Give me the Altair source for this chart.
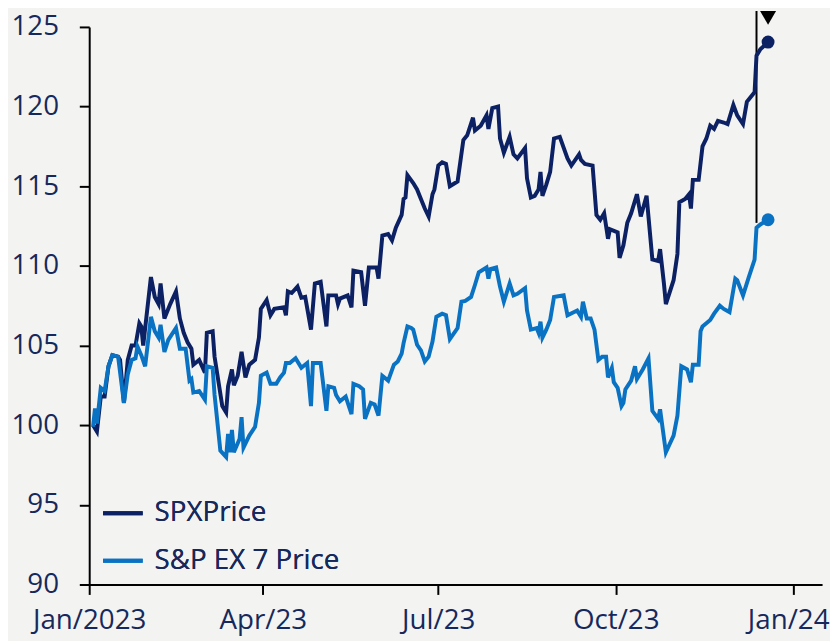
import altair as alt
import pandas as pd

# ---------------- data ----------------
spx_dates = ["01-03","01-05","01-07","01-09","01-11","01-13","01-16","01-17","01-19","01-21",
             "01-23","01-25","01-27","01-28","01-29","02-02","02-04","02-06","02-07","02-09",
             "02-12","02-15","02-17","02-19","02-21","02-23","02-24","02-27","03-02","03-03",
             "03-06","03-07","03-11","03-13","03-14","03-16","03-17","03-19","03-21","03-23",
             "03-25","03-28","03-30","03-31","04-03","04-05","04-07","04-12","04-13","04-14",
             "04-16","04-19","04-21","04-23","04-26","04-28","05-01","05-04","05-05","05-09",
             "05-10","05-11","05-15","05-17","05-18","05-22","05-24","05-26","05-30","05-31",
             "06-02","06-05","06-07","06-09","06-12","06-13","06-14","06-15","06-18","06-20",
             "06-22","06-24","06-26","06-28","06-29","07-01","07-03","07-05","07-07","07-11",
             "07-14","07-16","07-19","07-20","07-23","07-26","07-27","07-29","08-01","08-02",
             "08-04","08-07","08-09","08-11","08-15","08-16","08-18","08-20","08-22","08-23",
             "08-24","08-26","08-28","08-30","09-02","09-06","09-08","09-12","09-13","09-15",
             "09-19","09-21","09-23","09-25","09-27","09-28","10-02","10-03","10-05","10-07",
             "10-09","10-12","10-14","10-17","10-20","10-23","10-24","10-26","10-27","10-31",
             "11-02","11-03","11-06","11-08","11-09","11-10","11-13","11-15","11-17","11-19",
             "11-21","11-23","11-26","11-28","12-01","12-03","12-06","12-08","12-10","12-12",
             "12-13","12-15","12-19"]
spx_vals = [100.0, 99.6, 101.8, 101.8, 103.7, 104.4, 104.3, 104.1, 101.4, 104.1,
            105.0, 105.0, 106.4, 106.2, 105.0, 109.3, 108.05, 107.6, 108.9, 106.7,
            107.6, 108.4, 106.7, 105.8, 105.2, 104.8, 103.8, 104.1, 103.3, 105.8,
            105.9, 104.3, 101.2, 100.8, 102.45, 103.5, 102.5, 103.1, 104.6, 103.0,
            103.8, 104.1, 105.5, 107.3, 107.85, 106.9, 107.3, 107.4, 106.9, 108.4,
            108.3, 108.7, 108.0, 108.05, 106.0, 108.9, 109.0, 106.2, 108.15, 108.15,
            107.6, 107.95, 108.15, 107.4, 109.7, 109.6, 107.5, 109.9, 109.9, 109.2,
            111.9, 112.0, 111.6, 112.4, 113.2, 114.2, 114.3, 115.7, 115.2, 114.8,
            114.2, 113.6, 113.1, 114.5, 114.8, 116.3, 116.5, 116.4, 115.0, 115.3,
            117.9, 118.2, 119.3, 118.5, 118.8, 119.45, 118.6, 119.9, 120.0, 118.0,
            117.1, 118.1, 117.0, 116.75, 117.4, 115.5, 114.3, 114.4, 114.8, 115.9,
            114.4, 115.1, 115.9, 118.0, 118.1, 116.75, 116.3, 117.0, 116.65, 116.4,
            116.3, 113.2, 112.9, 113.3, 111.7, 112.3, 112.1, 110.5, 111.3, 112.7,
            113.3, 114.5, 113.1, 114.4, 110.4, 110.3, 111.05, 108.9, 107.6, 109.1,
            110.75, 114.0, 114.2, 114.5, 113.6, 115.4, 115.4, 117.5, 118.0, 118.8,
            118.6, 119.1, 119.0, 118.9, 120.1, 119.45, 118.9, 120.3, 120.6, 120.9,
            123.2, 123.6, 124.05]

ex7_dates = ["01-03","01-04","01-05","01-07","01-09","01-11","01-13","01-16","01-19","01-21",
             "01-23","01-25","01-26","01-28","01-30","02-02","02-04","02-06","02-07","02-09",
             "02-11","02-15","02-17","02-20","02-22","02-23","02-24","02-27","03-02","03-03",
             "03-06","03-07","03-10","03-13","03-14","03-15","03-16","03-17","03-20","03-21",
             "03-22","03-25","03-28","03-30","03-31","04-03","04-05","04-08","04-10","04-12",
             "04-13","04-15","04-18","04-21","04-24","04-26","04-27","05-01","05-04","05-05",
             "05-08","05-09","05-11","05-14","05-17","05-18","05-21","05-23","05-24","05-27",
             "05-29","05-31","06-02","06-05","06-08","06-10","06-12","06-13","06-15","06-17",
             "06-18","06-20","06-22","06-24","06-26","06-28","06-30","07-03","07-05","07-07",
             "07-11","07-13","07-15","07-18","07-20","07-22","07-26","07-27","07-28","07-31",
             "08-02","08-04","08-07","08-09","08-11","08-15","08-16","08-18","08-21","08-22",
             "08-23","08-24","08-26","08-28","08-30","09-04","09-06","09-11","09-13","09-14",
             "09-16","09-18","09-20","09-22","09-24","09-26","09-27","09-29","09-30","10-02",
             "10-04","10-05","10-06","10-09","10-11","10-12","10-15","10-18","10-20","10-23",
             "10-24","10-27","10-31","11-02","11-04","11-07","11-09","11-10","11-13","11-14",
             "11-15","11-19","11-21","11-24","11-26","11-29","12-02","12-03","12-06","12-09",
             "12-12","12-13","12-15","12-19"]
ex7_vals = [99.9, 101.05, 100.1, 102.35, 102.15, 103.7, 104.4, 104.3, 101.4, 103.2,
            104.1, 104.2, 104.95, 104.4, 103.7, 106.8, 105.9, 105.5, 106.3, 104.6,
            105.35, 106.1, 104.8, 104.8, 102.8, 102.9, 102.05, 102.15, 101.6, 103.7,
            103.6, 101.9, 98.4, 98.0, 99.45, 98.3, 99.7, 98.3, 99.15, 100.5,
            98.6, 99.35, 99.9, 101.4, 103.1, 103.3, 102.6, 102.6, 103.0, 103.3,
            103.9, 103.9, 104.2, 103.6, 103.9, 101.2, 103.9, 103.9, 100.9, 102.45,
            102.35, 101.9, 101.5, 101.8, 100.7, 102.6, 102.45, 102.25, 100.4, 101.4,
            101.3, 100.6, 103.1, 102.8, 103.8, 104.0, 104.5, 105.15, 106.2, 106.1,
            106.0, 105.05, 104.7, 104.0, 104.3, 105.25, 106.8, 107.0, 106.9, 105.4,
            106.1, 107.75, 107.8, 108.05, 108.8, 109.6, 109.9, 109.2, 109.8, 109.9,
            108.7, 107.75, 108.9, 108.15, 108.25, 108.6, 107.2, 106.0, 106.1, 105.8,
            106.5, 105.5, 106.0, 106.6, 108.05, 108.15, 106.9, 107.2, 106.8, 107.75,
            106.7, 106.7, 106.0, 104.1, 104.3, 104.3, 103.0, 103.6, 102.7, 102.35,
            101.2, 101.4, 102.25, 102.8, 103.7, 102.9, 103.5, 104.2, 100.9, 100.4,
            101.0, 98.3, 99.35, 100.6, 103.7, 103.5, 102.7, 103.8, 103.8, 105.9,
            106.2, 106.6, 107.0, 107.5, 107.3, 107.1, 109.2, 109.1, 108.15, 109.3,
            110.4, 112.4, 112.6, 112.9]

SERIES = ["SPXPrice", "S&P EX 7 Price"]
COLORS = ["#0b2163", "#0a72c2"]
Y_TICKS = [90, 95, 100, 105, 110, 115, 120, 125]

# annotation: vertical marker line and arrow above the SPX end point
ann_date = ["2023-12-13"]
ann_lo = [112.7]
ann_hi = [126.0]
arrow_date = ["2023-12-19"]
arrow_lo = [125.55]
arrow_hi = [126.0]
arrow_head = [125.57]

# ---------------- tables ----------------
spx = pd.DataFrame({"date": ["2023-" + d for d in spx_dates], "value": spx_vals, "series": SERIES[0]})
ex7 = pd.DataFrame({"date": ["2023-" + d for d in ex7_dates], "value": ex7_vals, "series": SERIES[1]})
ends = pd.concat([spx.tail(1), ex7.tail(1)], ignore_index=True)
ann = pd.DataFrame({"date": ann_date, "lo": ann_lo, "hi": ann_hi})
arrow = pd.DataFrame({"date": arrow_date, "lo": arrow_lo, "hi": arrow_hi, "head": arrow_head})

FONT = "Open Sans"
TXT = "#16295c"
FS = 28

def dt(y, m, d):
    return alt.DateTime(year=y, month=m, date=d, utc=True)

x_enc = alt.X(
    "date:T",
    scale=alt.Scale(type="utc", nice=False, domain=[dt(2023, 1, 1), dt(2024, 1, 16)]),
    axis=alt.Axis(
        values=[dt(2023, 1, 1), dt(2023, 4, 1), dt(2023, 7, 1), dt(2023, 10, 1), dt(2024, 1, 1)],
        labelExpr="datum.index == 0 ? utcFormat(datum.value, '%b/%Y') : utcFormat(datum.value, '%b/%y')",
        labelOffset={"condition": {"test": "datum.index == 1", "value": -5}, "value": 0},
        title=None, grid=False, labelFlush=False, labelOverlap=False,
        tickSize=10, labelPadding=12, domainColor="black", domainWidth=2,
        tickColor="black", tickWidth=2,
    ),
)
y_scale = alt.Scale(domain=[90, 125], nice=False, zero=False)
y_axis = alt.Axis(values=Y_TICKS, title=None, grid=False, tickSize=10, labelPadding=21,
                  domainColor="black", domainWidth=2, tickColor="black", tickWidth=2)

color_enc = alt.Color(
    "series:N",
    scale=alt.Scale(domain=SERIES, range=COLORS),
    legend=alt.Legend(title=None, orient="none", legendX=12, legendY=469,
                      symbolType="stroke", symbolSize=1600, symbolStrokeWidth=4,
                      labelFontSize=FS, labelFont=FONT, labelColor=TXT,
                      labelOffset=10, rowPadding=12, padding=0, labelLimit=400),
)

line_spx = alt.Chart(spx).mark_line(strokeWidth=4, clip=False).encode(
    x=x_enc, y=alt.Y("value:Q", scale=y_scale, axis=y_axis), color=color_enc)
line_ex7 = alt.Chart(ex7).mark_line(strokeWidth=4, clip=False).encode(
    x=x_enc, y=alt.Y("value:Q", scale=y_scale, axis=y_axis), color=color_enc)

dots = alt.Chart(ends).mark_circle(size=170, opacity=1).encode(
    x=alt.X("date:T"), y=alt.Y("value:Q"),
    color=alt.Color("series:N", scale=alt.Scale(domain=SERIES, range=COLORS), legend=None))

rule = alt.Chart(ann).mark_rule(color="black", strokeWidth=2, clip=False).encode(
    x=alt.X("date:T"), y=alt.Y("lo:Q"), y2="hi:Q")
shaft = alt.Chart(arrow).mark_rule(color="black", strokeWidth=2, clip=False).encode(
    x=alt.X("date:T"), y=alt.Y("lo:Q"), y2="hi:Q")
head = alt.Chart(arrow).mark_point(shape="triangle-down", filled=True, size=260,
                                   color="black", opacity=1, clip=False).encode(
    x=alt.X("date:T"), y=alt.Y("head:Q"))

chart = (
    alt.layer(rule, line_spx, line_ex7, dots, shaft, head)
    .resolve_scale(color="independent")
    .properties(
        width=740, height=563,
        autosize=alt.AutoSizeParams(type="none"),
        padding={"left": 82, "top": 16, "right": 8, "bottom": 62},
        background="#f3f3f1",
    )
    .configure_view(stroke=None)
    .configure_axis(labelFont=FONT, labelFontSize=FS, labelColor=TXT)
)

chart.save("out.html", embed_options={"renderer": "svg", "actions": False})
